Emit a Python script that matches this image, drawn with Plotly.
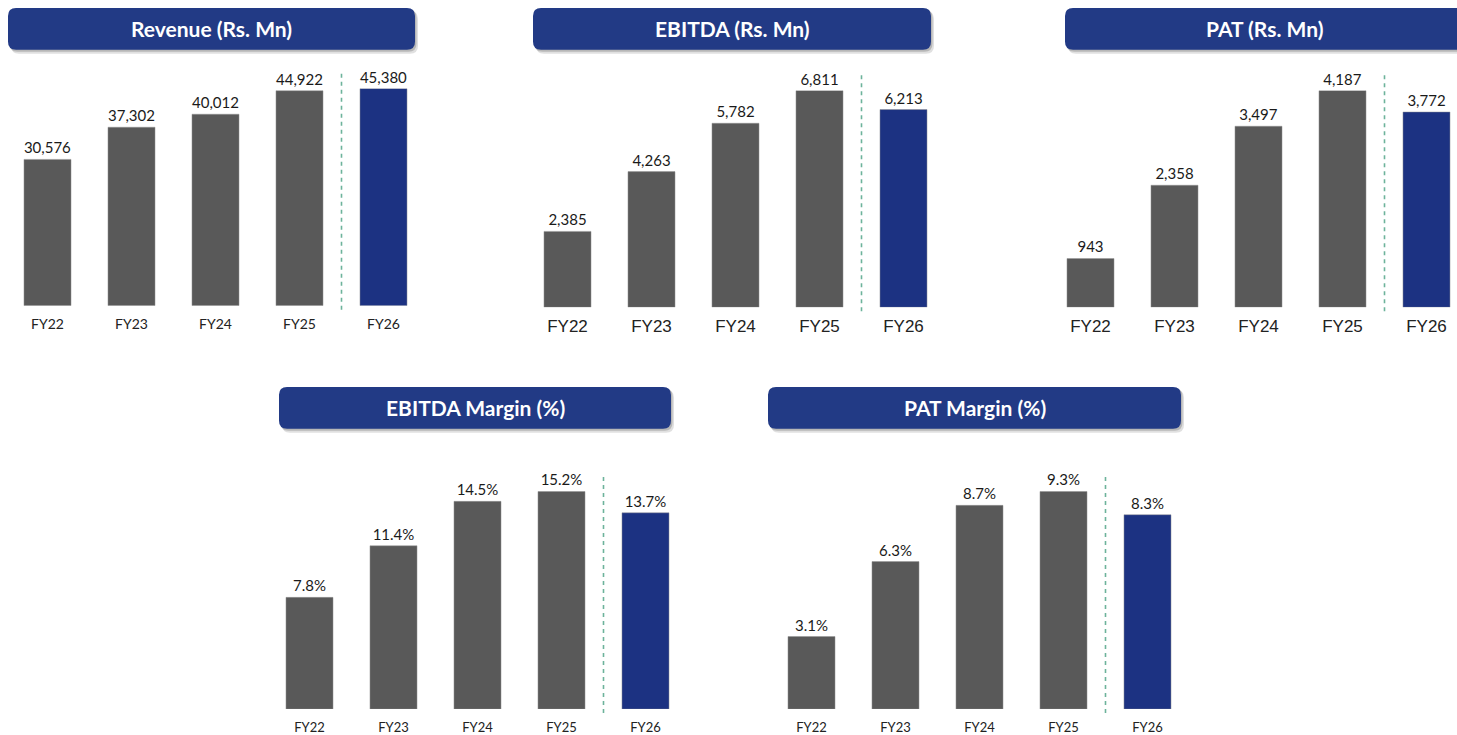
import plotly.graph_objects as go

W, H = 1457, 735

categories = ["FY22", "FY23", "FY24", "FY25", "FY26"]
revenue = [30576, 37302, 40012, 44922, 45380]
ebitda = [2385, 4263, 5782, 6811, 6213]
pat = [943, 2358, 3497, 4187, 3772]
ebitda_margin = [7.8, 11.4, 14.5, 15.2, 13.7]
pat_margin = [3.1, 6.3, 8.7, 9.3, 8.3]

titles = ["Revenue (Rs. Mn)", "EBITDA (Rs. Mn)", "PAT (Rs. Mn)",
          "EBITDA Margin (%)", "PAT Margin (%)"]

GRAY = "#595959"
BLUE = "#1C3282"
BOX = "#223A85"
DASH = "#6DB39B"

# panel layout in pixels
panels = [
    dict(vals=revenue, fmt="{:,.0f}", c0=47.5, base=307.5, top=89, box=(8, 415, 8, 50), tcx=211.5,
         tfont=dict(family="Lato", size=14, color="#222"), tstand=5),
    dict(vals=ebitda, fmt="{:,.0f}", c0=567.5, base=309, top=91, box=(533, 931, 8, 50), tcx=732,
         tfont=dict(family="Liberation Sans, Arial", size=17, color="#222"), tstand=3),
    dict(vals=pat, fmt="{:,.0f}", c0=1090.5, base=309, top=91, box=(1065, 1470, 8, 50), tcx=1264,
         tfont=dict(family="Liberation Sans, Arial", size=17, color="#222"), tstand=3),
    dict(vals=ebitda_margin, fmt="{:.1f}%", c0=309.5, base=713, top=494, box=(279, 671, 389, 431), tcx=475,
         tfont=dict(family="Lato", size=13, color="#222"), tstand=6),
    dict(vals=pat_margin, fmt="{:.1f}%", c0=811.5, base=713, top=494, box=(768, 1181, 389, 431), tcx=974.5,
         tfont=dict(family="Lato", size=13, color="#222"), tstand=6),
]

STEP = 84.0

fig = go.Figure()
shapes = []
annotations = []


def px(x):
    return x / W


def py(y):
    return 1 - y / H


def rrect(x0, x1, y0, y1, r):
    return (f"M {px(x0 + r)} {py(y0)} L {px(x1 - r)} {py(y0)} "
            f"Q {px(x1)} {py(y0)} {px(x1)} {py(y0 + r)} "
            f"L {px(x1)} {py(y1 - r)} Q {px(x1)} {py(y1)} {px(x1 - r)} {py(y1)} "
            f"L {px(x0 + r)} {py(y1)} Q {px(x0)} {py(y1)} {px(x0)} {py(y1 - r)} "
            f"L {px(x0)} {py(y0 + r)} Q {px(x0)} {py(y0)} {px(x0 + r)} {py(y0)} Z")


for i, (p, title) in enumerate(zip(panels, titles)):
    n = i + 1
    xa = "x" if n == 1 else f"x{n}"
    ya = "y" if n == 1 else f"y{n}"
    left = p["c0"] - STEP / 2
    right = min(left + 5 * STEP, W)
    xr = [-0.5, -0.5 + (right - left) / STEP]
    vals = p["vals"]
    colors = [GRAY] * (len(vals) - 1) + [BLUE]
    fig.add_trace(go.Bar(
        x=list(range(len(categories))), y=vals,
        marker=dict(color=colors, line=dict(width=0.8, color="rgba(150,150,150,0.6)")),
        text=[p["fmt"].format(v) for v in vals], textposition="outside",
        textfont=dict(family="Lato", size=15, color="#1a1a1a"),
        constraintext="none", cliponaxis=False, width=0.56,
        xaxis=xa, yaxis=ya, showlegend=False, hoverinfo="skip"))
    xkey = "xaxis" if n == 1 else f"xaxis{n}"
    ykey = "yaxis" if n == 1 else f"yaxis{n}"
    fig.update_layout(**{
        xkey: dict(domain=[px(left), px(right)], range=xr, anchor=ya,
                   tickvals=list(range(len(categories))), ticktext=categories,
                   tickfont=p["tfont"], showgrid=False, zeroline=False, showline=False,
                   ticks="outside", ticklen=p["tstand"], tickcolor="rgba(0,0,0,0)"),
        ykey: dict(domain=[py(p["base"]), py(p["top"])], range=[0, max(vals)], anchor=xa,
                   visible=False, showgrid=False, zeroline=False),
    })
    # dashed separator between FY25 and FY26
    shapes.append(dict(type="line", xref=xa, yref="paper", x0=3.5, x1=3.5,
                       y0=py(p["base"] + 4), y1=py(p["top"] - 18),
                       line=dict(color=DASH, width=1.6, dash="4px,4px")))
    # title box with shadow
    bx0, bx1, by0, by1 = p["box"]
    shapes.append(dict(type="path", xref="paper", yref="paper",
                       path=rrect(bx0 + 3, bx1 + 3, by0 + 3, by1 + 4, 8),
                       fillcolor="rgba(0,0,0,0.12)", line=dict(width=0), layer="below"))
    shapes.append(dict(type="path", xref="paper", yref="paper",
                       path=rrect(bx0 + 1.5, bx1 + 1.5, by0 + 1.5, by1 + 2, 8),
                       fillcolor="rgba(0,0,0,0.18)", line=dict(width=0), layer="below"))
    shapes.append(dict(type="path", xref="paper", yref="paper",
                       path=rrect(bx0, bx1, by0, by1, 8),
                       fillcolor=BOX, line=dict(width=0), layer="below"))
    annotations.append(dict(x=px(p["tcx"]), y=py((by0 + by1) / 2), xref="paper", yref="paper",
                            text=f"<b>{title}</b>", showarrow=False,
                            font=dict(family="Lato", size=21, color="white"),
                            xanchor="center", yanchor="middle"))

fig.update_layout(
    width=W, height=H, margin=dict(l=0, r=0, t=0, b=0),
    paper_bgcolor="white", plot_bgcolor="white",
    shapes=shapes, annotations=annotations, bargap=0.44,
)

fig.write_html("out.html")
